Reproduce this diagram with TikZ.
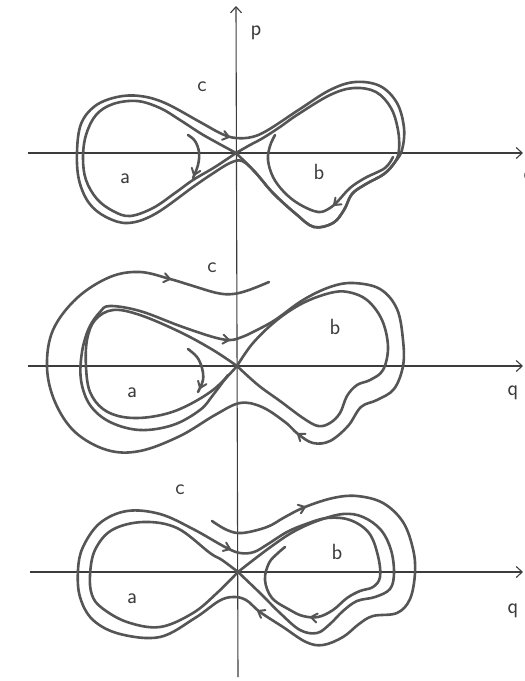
\documentclass[tikz,border=0pt]{standalone}
\usetikzlibrary{arrows.meta}
\definecolor{curvegray}{RGB}{85,85,85}
\definecolor{axisgray}{RGB}{60,60,60}
\definecolor{labelgray}{RGB}{60,60,60}
\tikzset{
  curve/.style={line width=2.6pt, draw=curvegray, line join=round, line cap=round},
  axisline/.style={line width=1.1pt, draw=axisgray, -{Straight Barb[length=6pt,width=11pt,line width=1.1pt]}},
  lbl/.style={inner sep=0pt, text=labelgray, font=\sffamily\fontsize{22}{24}\selectfont},
  chev/.pic={\draw[line width=2pt, draw=curvegray, line join=round, line cap=round] (-6,4.5) -- (0,0) -- (-6,-4.5);}
}
\begin{document}
\begin{tikzpicture}[x=1pt,y=-1pt]
\useasboundingbox (0,0) rectangle (525,681);
\fill[white] (0,0) rectangle (525,681);
\clip (0,0) rectangle (525,681);

% axes
\coordinate (vb) at (238,677);
\coordinate (vt) at (236,6);
\draw[axisline] (vb) -- (vt);
\coordinate (h1s) at (28,153); \coordinate (h1e) at (523,153);
\coordinate (h2s) at (28,366); \coordinate (h2e) at (523,366);
\coordinate (h3s) at (30,572); \coordinate (h3e) at (523,572);
\draw[axisline] (h1s) -- (h1e);
\draw[axisline] (h2s) -- (h2e);
\draw[axisline] (h3s) -- (h3e);

% ---------------- panel 1 ----------------
\coordinate (O1) at (236,153);
\draw[curve] plot[smooth, tension=0.6] coordinates {(236,153) (214,141) (200,133) (180,120) (160,108) (137,101) (113,104) (96,115) (86,135) (83,158) (86,180) (97,199) (113,211) (130,216) (153,208) (175,193) (193,180) (215,167) (236,153)};
\draw[curve] plot[smooth, tension=0.6] coordinates {(236,153) (250,145) (263,138) (280,127) (297,115) (330,95) (354,88) (376,92) (391,108) (398,130) (399,150) (395,162) (384,174) (366,184) (352,194) (344,210) (333,223) (314,227) (296,214) (273,193) (255,172) (236,153)};
\draw[curve] plot[smooth cycle, tension=0.6] coordinates {(236,138) (252,137) (268,130) (300,109) (330,90) (355,82) (380,86) (397,103) (404,128) (402,150) (395,162) (384,174) (366,184) (352,194) (344,210) (333,223) (314,227) (296,214) (273,193) (255,172) (242,161) (230,163) (212,174) (193,187) (155,214) (128,223) (106,217) (89,203) (79,180) (77,152) (81,124) (95,106) (117,97) (140,96) (165,103) (200,122) (222,134)};
\draw[curve] plot[smooth, tension=0.6] coordinates {(393,157) (385,168) (365,178) (350,188) (338,201) (330,208) (318,212) (299,204) (284,192) (273,177) (268,160) (270,146) (275,135)};
\draw[curve] plot[smooth, tension=0.6] coordinates {(188,135) (195,141) (199,152) (198,165) (193,178)};
\pic[rotate=-15] at (229,137) {chev};
\pic[rotate=-110] at (194,175) {chev};
\pic[rotate=-138] at (334,205) {chev};
\node[lbl] (p) at (256,33) {p};
\node[lbl] (c1) at (202,87) {c};
\node[lbl] (a1) at (125,179) {a};
\node[lbl] (b1) at (319,172) {b};
\node[lbl] (q1) at (529,178) {q};

% ---------------- panel 2 ----------------
\coordinate (O2) at (237,366);
\draw[curve] plot[smooth, tension=0.6] coordinates {(237,366) (213,350) (180,332) (140,315) (113,310) (95,320) (87,340) (86,367) (90,392) (103,409) (123,417) (150,417) (180,409) (213,390) (237,366)};
\draw[curve] plot[smooth, tension=0.6] coordinates {(237,366) (253,343) (277,320) (303,303) (330,293) (348,292) (367,300) (382,320) (388,347) (383,370) (370,380) (357,385) (347,396) (340,413) (330,423) (318,426) (303,418) (280,401) (258,385) (237,366)};
\draw[curve] plot[smooth, tension=0.6] coordinates {(228,375) (213,395) (200,410) (173,425) (140,430) (110,422) (90,405) (81,380) (82,352) (89,328) (100,312) (110,306) (140,311) (180,326) (213,337) (230,340) (242,337) (255,331) (275,320) (303,300) (330,287) (353,283) (380,289) (397,309) (403,340) (403,366) (394,389) (377,400) (361,407) (348,426) (330,441) (313,443) (298,434) (285,422) (262,407) (240,403) (215,415) (180,436) (140,451) (107,450) (75,432) (55,402) (47,367) (53,330) (77,298) (110,277) (140,272) (170,279) (190,285) (217,293) (233,294) (249,290) (269,282)};
\draw[curve] plot[smooth, tension=0.6] coordinates {(188,349) (197,357) (202,368) (203,380) (198,392)};
\pic[rotate=-12] at (170,279) {chev};
\pic[rotate=-8] at (229,340) {chev};
\pic[rotate=144] at (298,434) {chev};
\pic[rotate=-112] at (200,388) {chev};
\node[lbl] (c2) at (212,268) {c};
\node[lbl] (b2) at (335,327) {b};
\node[lbl] (a2) at (132,393) {a};
\node[lbl] (q2) at (513,393) {q};

% ---------------- panel 3 ----------------
\coordinate (O3) at (238,572);
\draw[curve] plot[smooth, tension=0.6] coordinates {(238,572) (222,560) (210,553) (177,528) (143,522) (112,530) (95,550) (90,575) (92,595) (102,608) (127,622) (160,627) (193,613) (217,593) (238,572)};
\draw[curve] plot[smooth, tension=0.6] coordinates {(238,572) (252,561) (272,546) (293,532) (317,521) (343,514) (363,517) (381,530) (391,550) (394,573) (390,589) (375,597) (357,601) (343,611) (330,624) (317,633) (300,630) (280,613) (260,593) (238,572)};
\draw[curve] plot[smooth, tension=0.6] coordinates {(212,521) (227,530) (242,533) (267,527) (285,517) (305,507) (333,498) (357,496) (383,503) (403,522) (413,549) (415,573) (410,599) (397,613) (373,616) (359,624) (343,637) (323,645) (306,642) (283,627) (260,612) (246,600) (233,597) (219,601) (195,618) (160,637) (120,634) (93,620) (80,597) (78,570) (83,547) (100,523) (127,511) (160,514) (193,529) (225,547) (240,553) (254,552) (268,544) (287,532) (306,524) (327,518) (350,520) (369,533) (378,556) (380,577) (373,587) (360,591) (347,598) (333,610) (318,617) (303,616) (290,610) (272,598) (265,580) (269,563) (278,553) (285,547)};
\pic[rotate=20] at (305,507) {chev};
\pic[rotate=-22] at (230,549) {chev};
\pic[rotate=150] at (258,611) {chev};
\pic[rotate=170] at (311,617) {chev};
\node[lbl] (c3) at (180,490) {c};
\node[lbl] (b3) at (337,552) {b};
\node[lbl] (a3) at (132,599) {a};
\node[lbl] (q3) at (513,611) {q};
\end{tikzpicture}
\end{document}
